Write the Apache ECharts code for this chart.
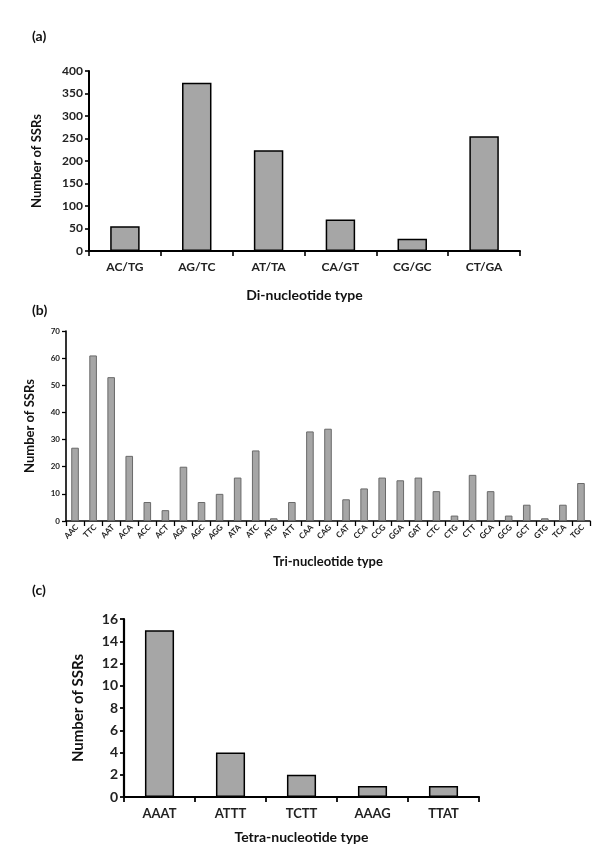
<!DOCTYPE html>
<html><head><meta charset="utf-8">
<script src="https://cdn.jsdelivr.net/npm/echarts@6/dist/echarts.min.js"></script>
<style>html,body{margin:0;padding:0;background:#fff}#c{width:600px;height:857px}</style>
</head><body><div id="c"></div>
<script>
const diCategories = ['AC/TG','AG/TC','AT/TA','CA/GT','CG/GC','CT/GA'];
const diValues = [55, 374, 224, 70, 27, 255];
const diTicks = [0, 50, 100, 150, 200, 250, 300, 350, 400];

const triCategories = ['AAC','TTC','AAT','ACA','ACC','ACT','AGA','AGC','AGG','ATA','ATC','ATG','ATT','CAA','CAG','CAT','CCA','CCG','GGA','GAT','CTC','CTG','CTT','GCA','GCG','GCT','GTG','TCA','TGC'];
const triValues = [27, 61, 53, 24, 7, 4, 20, 7, 10, 16, 26, 1, 7, 33, 34, 8, 12, 16, 15, 16, 11, 2, 17, 11, 2, 6, 1, 6, 14];
const triTicks = [0, 10, 20, 30, 40, 50, 60, 70];

const tetraCategories = ['AAAT','ATTT','TCTT','AAAG','TTAT'];
const tetraValues = [15, 4, 2, 1, 1];
const tetraTicks = [0, 2, 4, 6, 8, 10, 12, 14, 16];

const F = 'Lato, "Open Sans", sans-serif';
const chart = echarts.init(document.getElementById('c'), null, {renderer: 'canvas'});

function makeY(idx, ticks, fs, name, nfs, gap, lw) {
  return {
    type: 'value', gridIndex: idx, min: ticks[0], max: ticks[ticks.length - 1],
    interval: ticks[1] - ticks[0],
    splitLine: {show: false},
    axisLine: {show: true, lineStyle: {color: '#000', width: lw}},
    axisTick: {show: true, length: 4, lineStyle: {color: '#000', width: lw * 0.8}},
    axisLabel: {color: '#222', fontFamily: F, fontWeight: 'bold', fontSize: fs, margin: 6},
    name: name, nameLocation: 'middle', nameGap: gap,
    nameTextStyle: {color: '#111', fontFamily: F, fontWeight: 'bold', fontSize: nfs}
  };
}
function makeX(idx, cats, fs, showLabels, name, nfs, gap, lw, margin) {
  return {
    type: 'category', gridIndex: idx, data: cats,
    axisLine: {show: true, lineStyle: {color: '#000', width: lw}},
    axisTick: {show: true, length: 5, lineStyle: {color: '#000', width: lw * 0.8}},
    axisLabel: {show: showLabels, color: '#222', fontFamily: F, fontWeight: 'bold', fontSize: fs,
                margin: margin, interval: 0},
    name: name, nameLocation: 'middle', nameGap: gap,
    nameTextStyle: {color: '#111', fontFamily: F, fontWeight: 'bold', fontSize: nfs}
  };
}

chart.setOption({
  animation: false,
  title: [
    {text: '(a)', left: 27, top: 24, textStyle: {fontFamily: F, fontWeight: 'bold', fontSize: 14, color: '#111'}},
    {text: '(b)', left: 27, top: 298, textStyle: {fontFamily: F, fontWeight: 'bold', fontSize: 14, color: '#111'}},
    {text: '(c)', left: 27, top: 578, textStyle: {fontFamily: F, fontWeight: 'bold', fontSize: 14, color: '#111'}}
  ],
  grid: [
    {left: 89, top: 71, width: 431, height: 180, outerBoundsMode: 'none'},
    {left: 66, top: 331, width: 524, height: 190, outerBoundsMode: 'none'},
    {left: 124, top: 619, width: 355, height: 178, outerBoundsMode: 'none'}
  ],
  xAxis: [
    makeX(0, diCategories, 12, true, 'Di-nucleotide type', 14, 37, 2, 10),
    makeX(1, triCategories, 8, false, 'Tri-nucleotide type', 13, 34, 1.6, 5),
    makeX(2, tetraCategories, 13, true, 'Tetra-nucleotide type', 14, 33, 2.2, 10)
  ],
  yAxis: [
    makeY(0, diTicks, 12, 'Number of SSRs', 13, 46, 2),
    makeY(1, triTicks, 8, 'Number of SSRs', 13, 30, 1.6),
    makeY(2, tetraTicks, 14, 'Number of SSRs', 15, 38, 2.2)
  ],
  series: [
    {type: 'bar', xAxisIndex: 0, yAxisIndex: 0, data: diValues, barWidth: '41%',
     itemStyle: {color: '#a6a6a6', borderColor: '#000', borderWidth: 1.5}},
    {type: 'bar', xAxisIndex: 1, yAxisIndex: 1, data: triValues, barWidth: '42%',
     itemStyle: {color: '#a6a6a6', borderColor: '#6a6a6a', borderWidth: 1}},
    {type: 'bar', xAxisIndex: 2, yAxisIndex: 2, data: tetraValues, barWidth: '41%',
     itemStyle: {color: '#a6a6a6', borderColor: '#000', borderWidth: 1.5}}
  ]
});

// Rotated category labels for panel (b), placed through the axis scale
const triLabels = triCategories.map(function (c, i) {
  const p = chart.convertToPixel({xAxisIndex: 1, yAxisIndex: 1}, [i, 0]);
  return {
    type: 'text', silent: true, x: p[0] + 2, y: p[1] + 5, rotation: Math.PI / 4,
    style: {text: c, fill: '#222', fontFamily: F, fontWeight: 'bold', fontSize: 8,
            align: 'right', verticalAlign: 'middle', textAlign: 'right', textVerticalAlign: 'middle'}
  };
});
chart.setOption({graphic: triLabels});
</script></body></html>
